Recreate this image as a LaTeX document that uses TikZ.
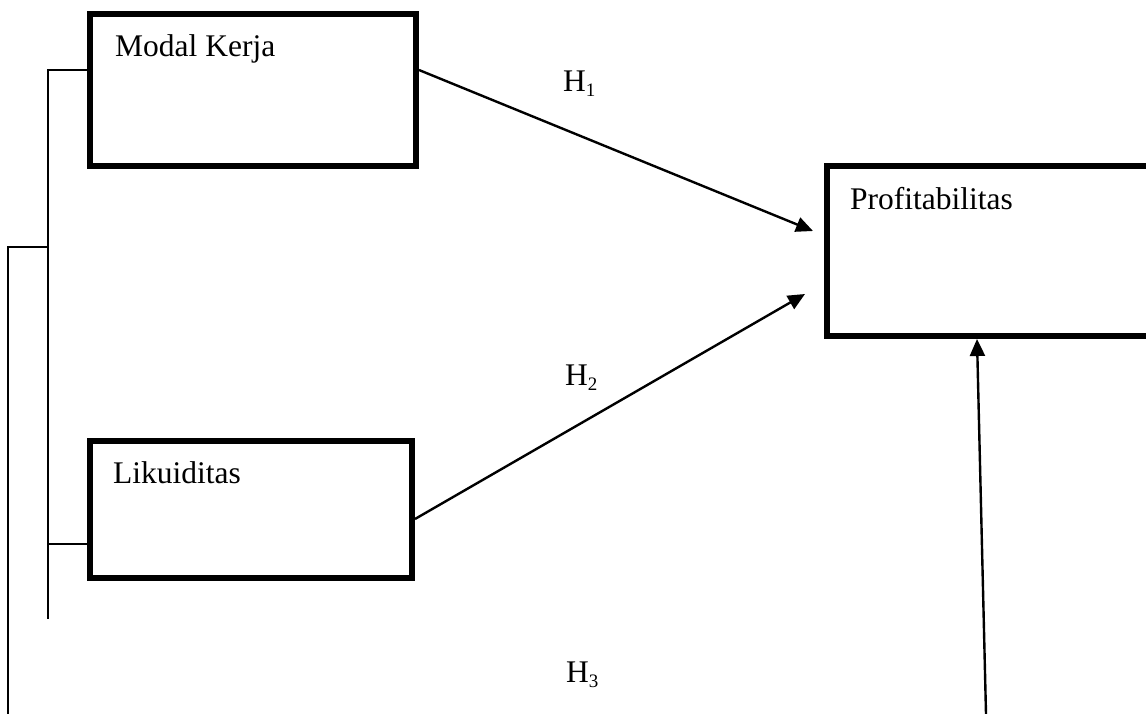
\documentclass[tikz,border=0pt]{standalone}
\usepackage{fontspec}
\setmainfont{Liberation Serif}
\usetikzlibrary{arrows.meta,calc}
\tikzset{
  varbox/.style={draw=black, line width=6pt, rectangle, inner sep=0pt, fill=none},
  boxtext/.style={anchor=base west, inner sep=0pt, font=\fontsize{31.5}{36}\selectfont},
  hlabel/.style={anchor=base west, inner sep=0pt, font=\fontsize{31.5}{36}\selectfont},
  thinline/.style={draw=black, line width=2pt},
  arr/.style={draw=black, line width=2.4pt, -{Triangle[length=17pt,width=15pt]}}
}
\newcommand{\hsub}[1]{H\raisebox{-5pt}{\fontsize{19}{22}\selectfont #1}}
\begin{document}
\begin{tikzpicture}[x=1pt,y=-1pt]
\useasboundingbox (0,0) rectangle (1146,714);
\clip (0,0) rectangle (1146,714);
% boxes
\node[varbox, minimum width=326pt, minimum height=152pt] (mk) at (253,90) {};
\node[varbox, minimum width=322pt, minimum height=137pt] (li) at (251,509.5) {};
\node[varbox, minimum width=343pt, minimum height=170pt] (pf) at (998.5,251) {};
% texts
\node[boxtext] (mkt) at (115,57) {Modal Kerja};
\node[boxtext] (lit) at (113,483) {Likuiditas};
\node[boxtext] (pft) at (850,210) {Profitabilitas};
% hypothesis labels
\node[hlabel] (h1) at (563,92) {\hsub{1}};
\node[hlabel] (h2) at (565,385) {\hsub{2}};
\node[hlabel] (h3) at (566,682) {\hsub{3}};
% bracket coordinates
\coordinate (b1) at (48,70);
\coordinate (b2) at (48,544);
\coordinate (b3) at (48,619);
\coordinate (b4) at (48,247);
\coordinate (c1) at (8,247);
\coordinate (c2) at (8,714);
\coordinate (s3) at (986,714);
% brackets
\draw[thinline] ($(mk.west)+(0,-20)$) -- (b1) -- (b3);
\draw[thinline] ($(li.west)+(0,34.5)$) -- (b2);
\draw[thinline] (b4) -- (c1) -- (c2);
% arrows
\draw[arr] ($(mk.east)+(0,-20)$) -- ($(pf.west)+(-11,-20)$);
\draw[arr] ($(li.east)+(0,9.5)$) -- ($(pf.west)+(-19,43)$);
\draw[arr] (s3) -- ($(pf.south west)+(153,0)$);
\end{tikzpicture}
\end{document}
